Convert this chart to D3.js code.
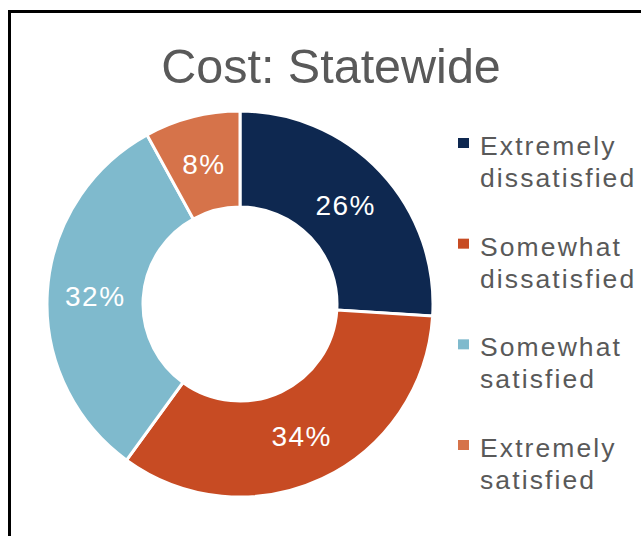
<!DOCTYPE html>
<html>
<head>
<meta charset="utf-8">
<script src="https://cdn.jsdelivr.net/npm/d3@7"></script>
<style>
  body { margin: 0; background: #fff; }
  svg { display: block; font-family: Arial, "Liberation Sans", sans-serif; }
</style>
</head>
<body>
<svg id="chart" width="641" height="536"></svg>
<script>
const categories = ['Extremely dissatisfied', 'Somewhat dissatisfied', 'Somewhat satisfied', 'Extremely satisfied']
const legendLines = [['Extremely', 'dissatisfied'], ['Somewhat', 'dissatisfied'], ['Somewhat', 'satisfied'], ['Extremely', 'satisfied']]
const values = [26, 34, 32, 8]
const colors = ['#0e2850', '#c74b23', '#7fbacd', '#d6734a']
const title = 'Cost: Statewide'

const svg = d3.select('#chart')

// frame (right and bottom edges run off the page)
svg.append('rect')
  .attr('x', 9.5)
  .attr('y', 11.5)
  .attr('width', 700)
  .attr('height', 600)
  .attr('fill', 'none')
  .attr('stroke', '#000')
  .attr('stroke-width', 3)

svg.append('text')
  .attr('x', 331)
  .attr('y', 83)
  .attr('text-anchor', 'middle')
  .attr('font-size', 48.5)
  .attr('fill', '#595959')
  .text(title)

const color = d3.scaleOrdinal().domain(categories).range(colors)

const pie = d3.pie().sort(null).value(d => d.value)
const arcs = pie(categories.map((c, i) => ({ key: c, value: values[i] })))

const arc = d3.arc().innerRadius(97).outerRadius(193)

const donut = svg.append('g')
  .attr('transform', 'translate(240,304)')

donut.selectAll('path').data(arcs)
  .enter().append('path')
    .attr('d', arc)
    .attr('fill', d => color(d.data.key))
    .attr('stroke', '#fff')
    .attr('stroke-width', 3)
    .attr('stroke-linejoin', 'miter')

donut.selectAll('text.pct').data(arcs)
  .enter().append('text')
    .attr('class', 'pct')
    .attr('transform', d => `translate(${arc.centroid(d)})`)
    .attr('text-anchor', 'middle')
    .attr('dy', '0.38em')
    .attr('font-size', 28)
    .attr('letter-spacing', 1.5)
    .attr('fill', '#fff')
    .text(d => d.data.value + '%')

const legend = svg.append('g').attr('class', 'legend')
const entryY = d3.scaleLinear().domain([0, categories.length - 1]).range([155, 457])

const entry = legend.selectAll('g').data(categories)
  .enter().append('g')
    .attr('transform', (d, i) => `translate(458,${entryY(i)})`)

entry.append('rect')
  .attr('y', -17)
  .attr('width', 11)
  .attr('height', 10)
  .attr('fill', d => color(d))

entry.append('text')
  .attr('x', 22)
  .attr('font-size', 26.5)
  .attr('letter-spacing', 2.1)
  .attr('fill', '#595959')
  .selectAll('tspan').data((d, i) => legendLines[i])
  .enter().append('tspan')
    .attr('x', 22)
    .attr('y', (d, j) => j * 32)
    .text(d => d)
</script>
</body>
</html>
